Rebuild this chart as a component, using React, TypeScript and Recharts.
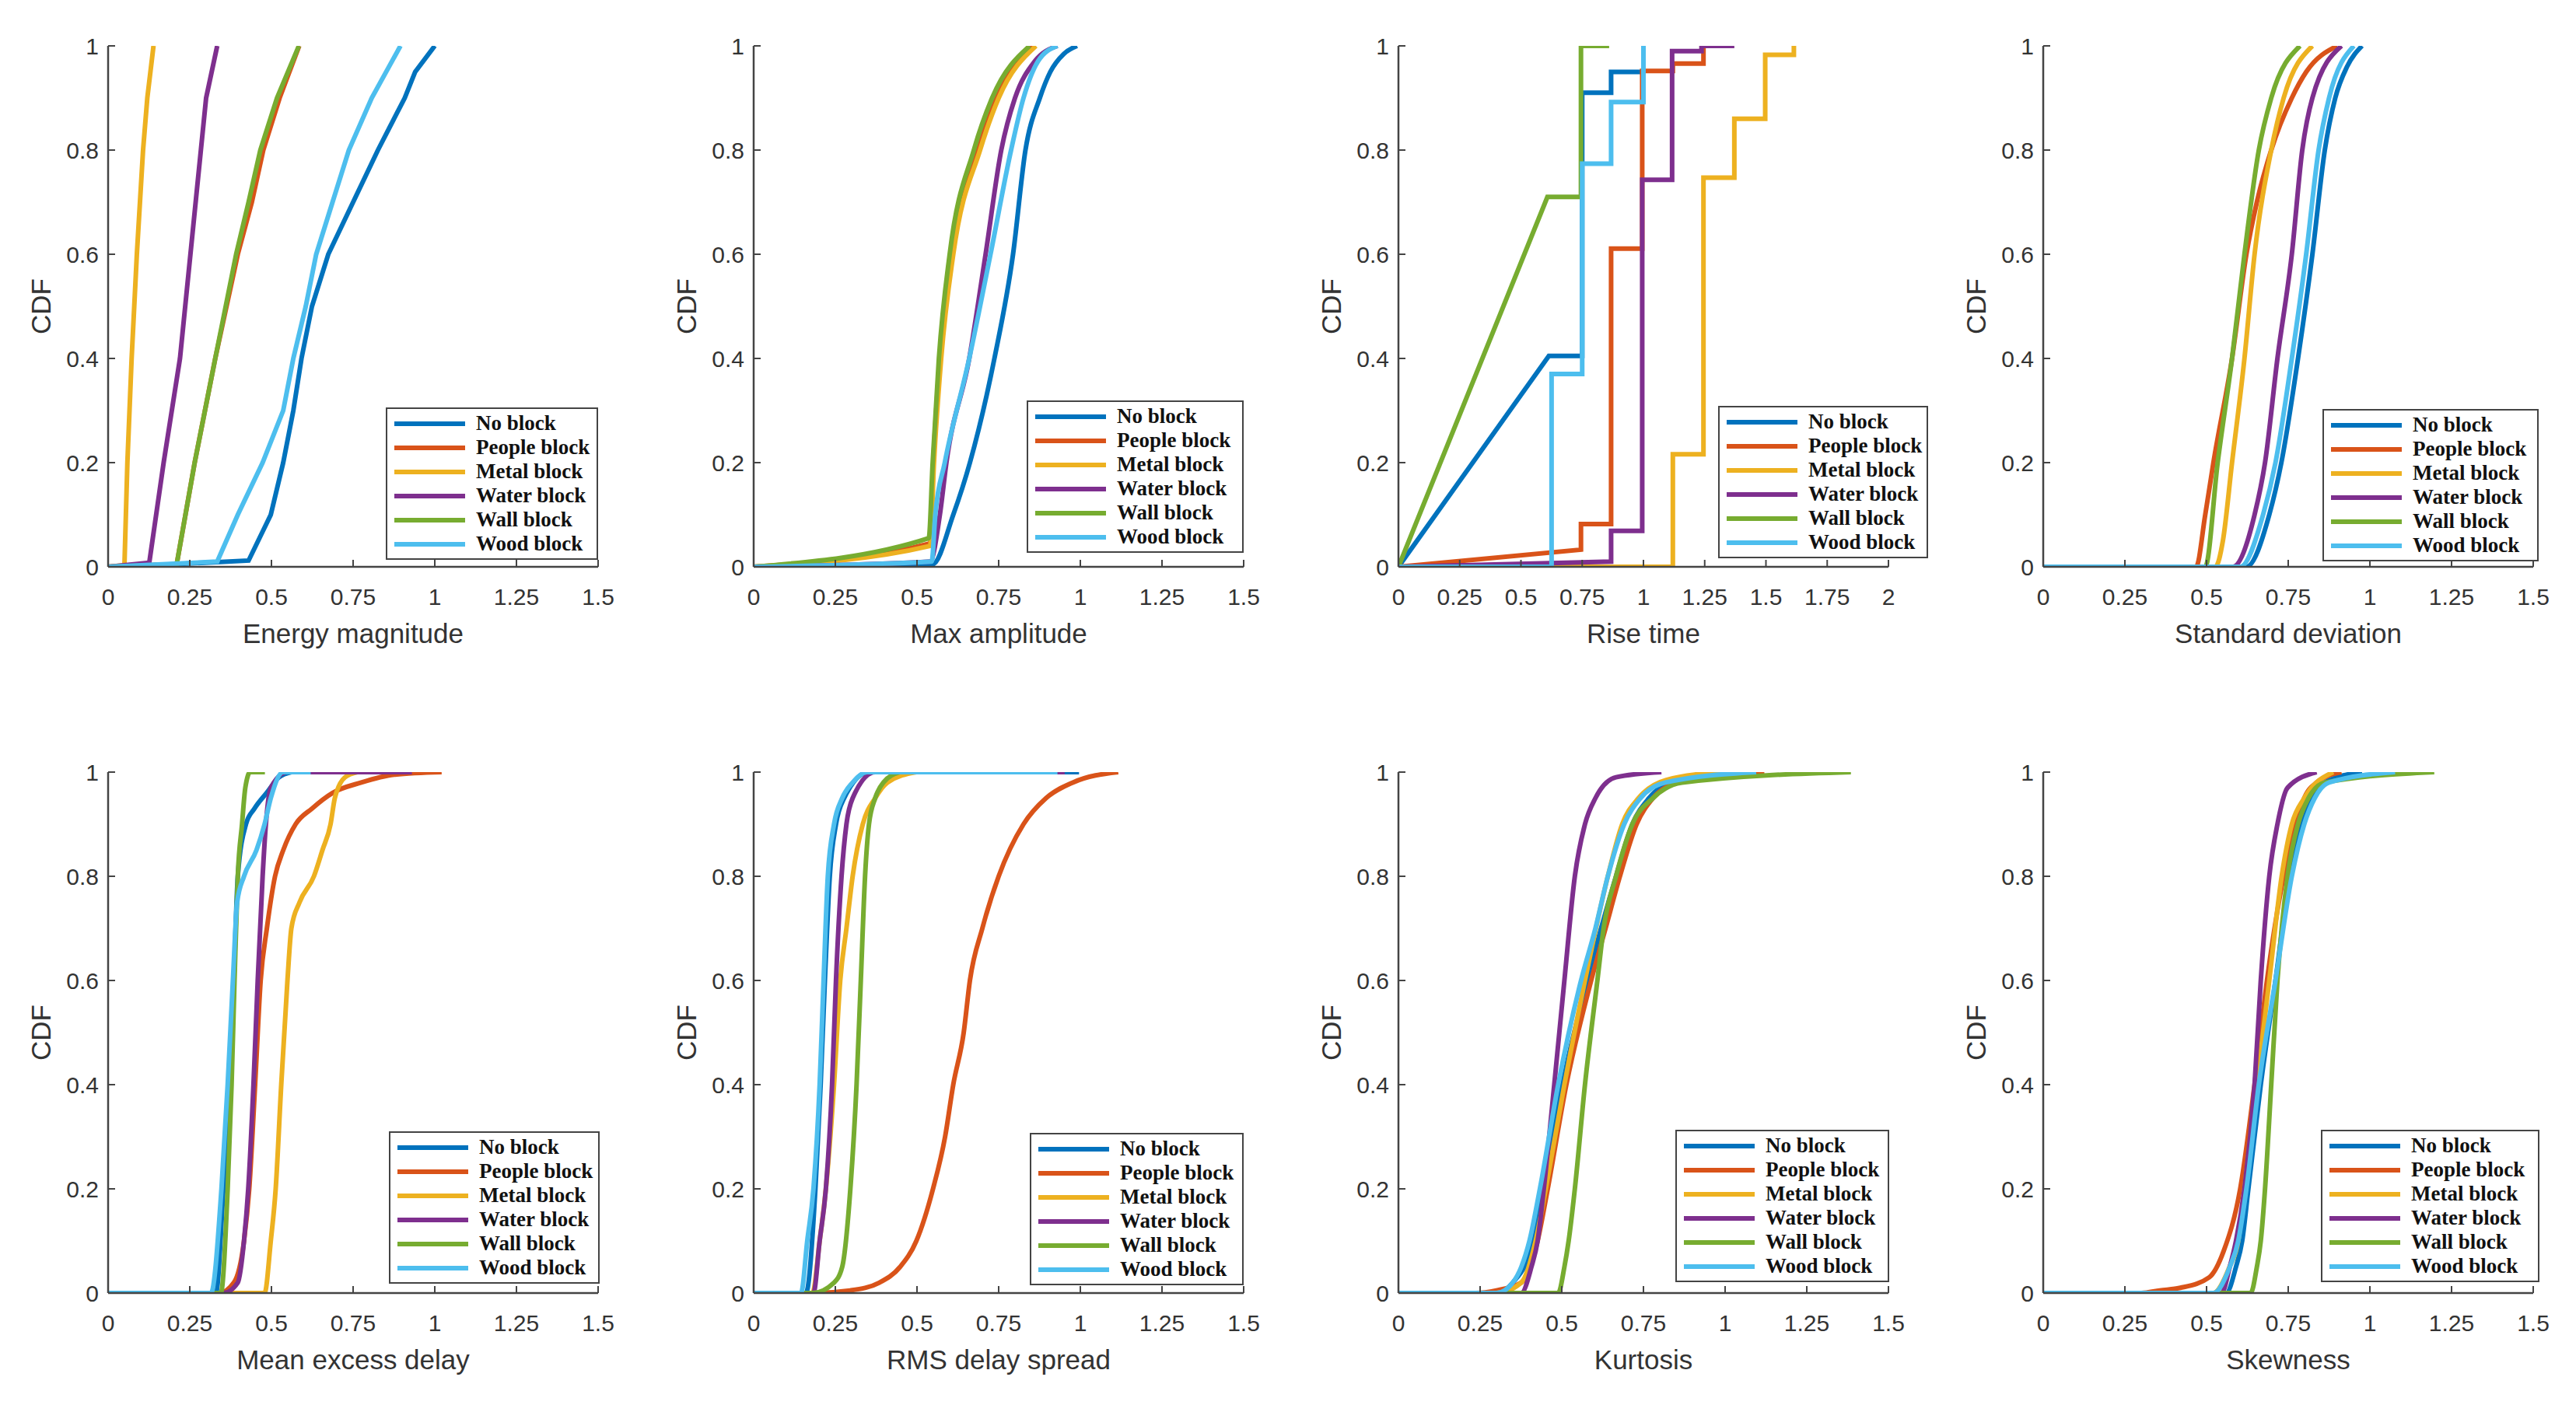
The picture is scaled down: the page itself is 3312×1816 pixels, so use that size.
import { LineChart, Line, XAxis, YAxis, Legend } from 'recharts'

// series names + MATLAB default colour order
const SERIES_NAMES = ['No block', 'People block', 'Metal block', 'Water block', 'Wall block', 'Wood block']
const SERIES_COLORS = ['#0072BD', '#D95319', '#EDB120', '#7E2F8E', '#77AC30', '#4DBEEE']

const X_TICKS = [0, 0.25, 0.5, 0.75, 1, 1.25, 1.5]
const X_TICKS_RISE = [0, 0.25, 0.5, 0.75, 1, 1.25, 1.5, 1.75, 2]
const Y_TICKS = [0, 0.2, 0.4, 0.6, 0.8, 1]

// [x, CDF] points
const energyNo = [[0, 0], [0.2, 0.005], [0.43, 0.012], [0.498, 0.1], [0.536, 0.2], [0.567, 0.3], [0.592, 0.4], [0.624, 0.5], [0.674, 0.6], [0.75, 0.7], [0.826, 0.8], [0.908, 0.9], [0.94, 0.95], [1.0, 1.0]]
const energyPeople = [[0, 0], [0.21, 0.005], [0.265, 0.2], [0.328, 0.4], [0.397, 0.6], [0.44, 0.7], [0.475, 0.8], [0.525, 0.9], [0.585, 1.0]]
const energyMetal = [[0, 0], [0.05, 0.003], [0.059, 0.2], [0.072, 0.4], [0.088, 0.6], [0.107, 0.8], [0.12, 0.9], [0.139, 1.0]]
const energyWater = [[0, 0], [0.126, 0.008], [0.17, 0.2], [0.22, 0.4], [0.252, 0.6], [0.284, 0.8], [0.3, 0.9], [0.334, 1.0]]
const energyWall = [[0, 0], [0.21, 0.005], [0.265, 0.2], [0.328, 0.4], [0.392, 0.6], [0.43, 0.7], [0.466, 0.8], [0.517, 0.9], [0.584, 1.0]]
const energyWood = [[0, 0], [0.334, 0.01], [0.397, 0.1], [0.473, 0.2], [0.536, 0.3], [0.567, 0.4], [0.605, 0.5], [0.637, 0.6], [0.687, 0.7], [0.737, 0.8], [0.807, 0.9], [0.895, 1.0]]

const ampNo = [[0, 0], [0.3, 0.003], [0.548, 0.005], [0.611, 0.1], [0.662, 0.2], [0.737, 0.4], [0.794, 0.6], [0.832, 0.8], [0.876, 0.9], [0.908, 0.95], [0.95, 0.985], [0.99, 1.0]]
const ampPeople = [[0, 0], [0.54, 0.045], [0.55, 0.2], [0.57, 0.4], [0.605, 0.6], [0.683, 0.8], [0.74, 0.9], [0.857, 1.0]]
const ampMetal = [[0, 0], [0.54, 0.04], [0.552, 0.2], [0.574, 0.4], [0.611, 0.6], [0.693, 0.8], [0.75, 0.9], [0.864, 1.0]]
const ampWater = [[0, 0], [0.54, 0.01], [0.57, 0.1], [0.59, 0.2], [0.66, 0.4], [0.71, 0.6], [0.758, 0.8], [0.8, 0.9], [0.86, 0.97], [0.93, 1.0]]
const ampWall = [[0, 0], [0.536, 0.055], [0.548, 0.2], [0.567, 0.4], [0.6, 0.6], [0.674, 0.8], [0.73, 0.9], [0.845, 1.0]]
const ampWood = [[0, 0], [0.545, 0.01], [0.556, 0.1], [0.585, 0.2], [0.66, 0.4], [0.725, 0.6], [0.788, 0.8], [0.826, 0.9], [0.87, 0.97], [0.93, 1.0]]

const riseNo = [[0, 0], [0.614, 0.405], [0.75, 0.405], [0.75, 0.91], [0.868, 0.91], [0.868, 0.95], [1.0, 0.95], [1.0, 1.0]]
const risePeople = [[0, 0], [0.745, 0.033], [0.745, 0.082], [0.868, 0.082], [0.868, 0.611], [0.995, 0.611], [0.995, 0.952], [1.12, 0.952], [1.12, 0.966], [1.245, 0.966], [1.245, 1.0], [1.3, 1.0]]
const riseMetal = [[0, 0], [1.12, 0], [1.12, 0.216], [1.245, 0.216], [1.245, 0.747], [1.371, 0.747], [1.371, 0.86], [1.497, 0.86], [1.497, 0.983], [1.614, 0.983], [1.614, 1.0]]
const riseWater = [[0, 0], [0.868, 0.01], [0.868, 0.069], [0.995, 0.069], [0.995, 0.743], [1.117, 0.743], [1.117, 0.99], [1.237, 0.99], [1.237, 1.0], [1.371, 1.0]]
const riseWall = [[0, 0], [0.608, 0.71], [0.745, 0.71], [0.745, 1.0], [0.86, 1.0]]
const riseWood = [[0, 0], [0.625, 0], [0.625, 0.37], [0.75, 0.37], [0.75, 0.774], [0.868, 0.774], [0.868, 0.892], [1.0, 0.892], [1.0, 1.0]]

const stdNo = [[0, 0], [0.622, 0], [0.692, 0.1], [0.729, 0.2], [0.78, 0.4], [0.824, 0.6], [0.862, 0.8], [0.894, 0.9], [0.93, 0.96], [0.976, 1.0]]
const stdPeople = [[0, 0], [0.468, 0], [0.496, 0.1], [0.521, 0.2], [0.578, 0.4], [0.622, 0.6], [0.654, 0.7], [0.698, 0.8], [0.761, 0.9], [0.805, 0.95], [0.9, 1.0]]
const stdMetal = [[0, 0], [0.527, 0], [0.55, 0.05], [0.578, 0.2], [0.616, 0.4], [0.647, 0.6], [0.698, 0.8], [0.736, 0.9], [0.824, 1.0]]
const stdWater = [[0, 0], [0.58, 0], [0.647, 0.1], [0.679, 0.2], [0.717, 0.4], [0.761, 0.6], [0.793, 0.8], [0.824, 0.9], [0.913, 1.0]]
const stdWall = [[0, 0], [0.496, 0], [0.534, 0.2], [0.578, 0.4], [0.616, 0.6], [0.66, 0.8], [0.698, 0.9], [0.786, 1.0]]
const stdWood = [[0, 0], [0.603, 0], [0.673, 0.1], [0.711, 0.2], [0.761, 0.4], [0.805, 0.6], [0.843, 0.8], [0.875, 0.9], [0.951, 1.0]]

const medNo = [[0, 0], [0.33, 0], [0.353, 0.2], [0.372, 0.4], [0.385, 0.6], [0.397, 0.8], [0.422, 0.9], [0.448, 0.93], [0.485, 0.96], [0.523, 0.99], [0.561, 1.0]]
const medPeople = [[0, 0], [0.34, 0], [0.385, 0.02], [0.416, 0.1], [0.432, 0.2], [0.45, 0.4], [0.467, 0.6], [0.486, 0.7], [0.511, 0.8], [0.536, 0.85], [0.574, 0.9], [0.624, 0.93], [0.687, 0.96], [0.775, 0.98], [0.876, 0.995], [1.021, 1.0]]
const medMetal = [[0, 0], [0.479, 0], [0.498, 0.1], [0.513, 0.2], [0.53, 0.4], [0.549, 0.6], [0.561, 0.7], [0.586, 0.75], [0.63, 0.8], [0.656, 0.85], [0.681, 0.9], [0.694, 0.95], [0.725, 0.99], [0.763, 1.0]]
const medWater = [[0, 0], [0.353, 0], [0.397, 0.02], [0.416, 0.1], [0.429, 0.2], [0.445, 0.4], [0.458, 0.6], [0.473, 0.8], [0.483, 0.9], [0.498, 0.97], [0.549, 1.0], [0.93, 1.0]]
const medWall = [[0, 0], [0.345, 0], [0.366, 0.2], [0.378, 0.4], [0.387, 0.6], [0.397, 0.8], [0.41, 0.9], [0.42, 0.97], [0.435, 1.0], [0.48, 1.0]]
const medWood = [[0, 0], [0.315, 0], [0.347, 0.2], [0.366, 0.4], [0.382, 0.6], [0.395, 0.75], [0.416, 0.8], [0.454, 0.85], [0.479, 0.9], [0.498, 0.95], [0.536, 1.0], [0.62, 1.0]]

const rmsNo = [[0, 0], [0.16, 0], [0.189, 0.2], [0.205, 0.4], [0.218, 0.6], [0.233, 0.8], [0.252, 0.9], [0.277, 0.95], [0.353, 1.0], [0.996, 1.0]]
const rmsPeople = [[0, 0], [0.18, 0], [0.296, 0.005], [0.385, 0.02], [0.448, 0.05], [0.498, 0.1], [0.549, 0.2], [0.586, 0.3], [0.611, 0.4], [0.643, 0.5], [0.662, 0.6], [0.7, 0.7], [0.75, 0.8], [0.826, 0.9], [0.895, 0.95], [0.977, 0.98], [1.116, 1.0]]
const rmsMetal = [[0, 0], [0.18, 0], [0.202, 0.1], [0.221, 0.2], [0.246, 0.4], [0.265, 0.6], [0.284, 0.7], [0.303, 0.8], [0.334, 0.9], [0.372, 0.95], [0.41, 0.98], [0.498, 1.0]]
const rmsWater = [[0, 0], [0.183, 0], [0.202, 0.1], [0.221, 0.2], [0.24, 0.4], [0.252, 0.6], [0.269, 0.8], [0.284, 0.9], [0.303, 0.95], [0.372, 1.0], [0.952, 1.0]]
const rmsWall = [[0, 0], [0.18, 0], [0.246, 0.02], [0.271, 0.05], [0.296, 0.2], [0.315, 0.4], [0.328, 0.6], [0.341, 0.8], [0.353, 0.9], [0.372, 0.95], [0.397, 0.98], [0.448, 1.0]]
const rmsWood = [[0, 0], [0.145, 0], [0.164, 0.1], [0.183, 0.2], [0.202, 0.4], [0.214, 0.6], [0.227, 0.8], [0.246, 0.9], [0.271, 0.95], [0.303, 0.98], [0.347, 1.0], [0.93, 1.0]]

const kurtNo = [[0, 0], [0.3, 0], [0.35, 0.02], [0.414, 0.1], [0.445, 0.2], [0.502, 0.4], [0.578, 0.6], [0.666, 0.8], [0.716, 0.9], [0.767, 0.95], [0.85, 0.985], [0.994, 1.0]]
const kurtPeople = [[0, 0], [0.237, 0], [0.3, 0.005], [0.376, 0.02], [0.426, 0.1], [0.457, 0.2], [0.514, 0.4], [0.59, 0.6], [0.634, 0.7], [0.678, 0.8], [0.729, 0.9], [0.779, 0.95], [0.855, 0.98], [1.12, 1.0]]
const kurtMetal = [[0, 0], [0.3, 0], [0.376, 0.02], [0.42, 0.1], [0.451, 0.2], [0.508, 0.4], [0.571, 0.6], [0.641, 0.8], [0.685, 0.9], [0.735, 0.95], [0.82, 0.985], [0.994, 1.0]]
const kurtWater = [[0, 0], [0.376, 0], [0.407, 0.05], [0.426, 0.1], [0.445, 0.2], [0.477, 0.4], [0.508, 0.6], [0.54, 0.8], [0.571, 0.9], [0.603, 0.95], [0.666, 0.99], [0.805, 1.0]]
const kurtWall = [[0, 0], [0.489, 0], [0.508, 0.05], [0.521, 0.1], [0.54, 0.2], [0.571, 0.4], [0.609, 0.6], [0.628, 0.7], [0.666, 0.8], [0.716, 0.9], [0.779, 0.95], [0.868, 0.98], [1.385, 1.0]]
const kurtWood = [[0, 0], [0.3, 0], [0.35, 0.02], [0.376, 0.05], [0.401, 0.1], [0.433, 0.2], [0.489, 0.4], [0.559, 0.6], [0.603, 0.7], [0.641, 0.8], [0.691, 0.9], [0.741, 0.95], [0.817, 0.98], [1.095, 1.0]]

const skewNo = [[0, 0], [0.56, 0], [0.59, 0.05], [0.609, 0.1], [0.628, 0.2], [0.666, 0.4], [0.711, 0.6], [0.755, 0.8], [0.793, 0.9], [0.824, 0.95], [0.862, 0.98], [0.976, 1.0]]
const skewPeople = [[0, 0], [0.3, 0], [0.357, 0.005], [0.42, 0.01], [0.508, 0.03], [0.552, 0.08], [0.603, 0.2], [0.647, 0.4], [0.685, 0.6], [0.736, 0.8], [0.774, 0.9], [0.799, 0.95], [0.837, 0.98], [0.913, 1.0]]
const skewMetal = [[0, 0], [0.52, 0], [0.57, 0.05], [0.597, 0.1], [0.616, 0.2], [0.654, 0.4], [0.692, 0.6], [0.73, 0.8], [0.761, 0.9], [0.799, 0.95], [0.888, 1.0]]
const skewWater = [[0, 0], [0.546, 0], [0.571, 0.05], [0.59, 0.1], [0.616, 0.2], [0.647, 0.4], [0.666, 0.6], [0.692, 0.8], [0.717, 0.9], [0.748, 0.97], [0.837, 1.0]]
const skewWall = [[0, 0], [0.635, 0], [0.654, 0.05], [0.666, 0.1], [0.679, 0.2], [0.698, 0.4], [0.717, 0.6], [0.748, 0.8], [0.78, 0.9], [0.812, 0.95], [0.862, 0.98], [1.197, 1.0]]
const skewWood = [[0, 0], [0.521, 0], [0.571, 0.05], [0.597, 0.1], [0.622, 0.2], [0.66, 0.4], [0.711, 0.6], [0.761, 0.8], [0.799, 0.9], [0.831, 0.95], [0.875, 0.98], [1.077, 1.0]]

// layout (px)
const PLOT_W = 630
const PLOT_H = 670
const AXIS_W = 130
const TOP_PAD = 20
const XAXIS_H = 110
const RIGHT_PAD = 80
const TICK_LEN = 9
const AXIS_COLOR = '#444'
const TEXT_COLOR = '#333'
const SANS = '"Liberation Sans", Arial, Helvetica, sans-serif'
const SERIF = '"Liberation Serif", "Times New Roman", serif'

const panels = [
  { label: 'Energy magnitude', series: [energyNo, energyPeople, energyMetal, energyWater, energyWall, energyWood], xMax: 1.5, ticks: X_TICKS, curve: 'linear', left: 139, top: 59, lgX: 357, lgY: 465, lgW: 273 },
  { label: 'Max amplitude', series: [ampNo, ampPeople, ampMetal, ampWater, ampWall, ampWood], xMax: 1.5, ticks: X_TICKS, curve: 'monotone', left: 969, top: 59, lgX: 351, lgY: 456, lgW: 279 },
  { label: 'Rise time', series: [riseNo, risePeople, riseMetal, riseWater, riseWall, riseWood], xMax: 2, ticks: X_TICKS_RISE, curve: 'linear', left: 1798, top: 59, lgX: 411, lgY: 463, lgW: 270 },
  { label: 'Standard deviation', series: [stdNo, stdPeople, stdMetal, stdWater, stdWall, stdWood], xMax: 1.5, ticks: X_TICKS, curve: 'monotone', left: 2627, top: 59, lgX: 359, lgY: 467, lgW: 278 },
  { label: 'Mean excess delay', series: [medNo, medPeople, medMetal, medWater, medWall, medWood], xMax: 1.5, ticks: X_TICKS, curve: 'monotone', left: 139, top: 993, lgX: 361, lgY: 462, lgW: 271 },
  { label: 'RMS delay spread', series: [rmsNo, rmsPeople, rmsMetal, rmsWater, rmsWall, rmsWood], xMax: 1.5, ticks: X_TICKS, curve: 'monotone', left: 969, top: 993, lgX: 355, lgY: 464, lgW: 275 },
  { label: 'Kurtosis', series: [kurtNo, kurtPeople, kurtMetal, kurtWater, kurtWall, kurtWood], xMax: 1.5, ticks: X_TICKS, curve: 'monotone', left: 1798, top: 993, lgX: 356, lgY: 460, lgW: 275 },
  { label: 'Skewness', series: [skewNo, skewPeople, skewMetal, skewWater, skewWall, skewWood], xMax: 1.5, ticks: X_TICKS, curve: 'monotone', left: 2627, top: 993, lgX: 357, lgY: 460, lgW: 281 },
]

// MATLAB style: ticks point inwards, on all four sides
const BottomTick = ({ x, y, payload }: any) => (
  <g>
    <line x1={x} y1={y} x2={x} y2={y - TICK_LEN} stroke={AXIS_COLOR} strokeWidth={2} />
    <text x={x} y={y + 38} dy="0.35em" textAnchor="middle" fontSize={30} fontFamily={SANS} fill={TEXT_COLOR}>
      {payload.value}
    </text>
  </g>
)
const TopTick = ({ x, y }: any) => (
  <line x1={x} y1={y} x2={x} y2={y + TICK_LEN} stroke={AXIS_COLOR} strokeWidth={2} />
)
const LeftTick = ({ x, y, payload }: any) => (
  <g>
    <line x1={x} y1={y} x2={x + TICK_LEN} y2={y} stroke={AXIS_COLOR} strokeWidth={2} />
    <text x={x - 12} y={y} dy="0.35em" textAnchor="end" fontSize={30} fontFamily={SANS} fill={TEXT_COLOR}>
      {payload.value}
    </text>
  </g>
)
const RightTick = ({ x, y }: any) => (
  <line x1={x} y1={y} x2={x - TICK_LEN} y2={y} stroke={AXIS_COLOR} strokeWidth={2} />
)

// keep the plotting order in the legend (recharts sorts by name otherwise)
const LegendBox = ({ payload }: any) => {
  const items = [...(payload || [])].sort(
    (a: any, b: any) => SERIES_NAMES.indexOf(a.value) - SERIES_NAMES.indexOf(b.value))
  return (
    <div style={{
      width: '100%', height: '100%', boxSizing: 'border-box', background: '#fff',
      border: `2px solid ${AXIS_COLOR}`, paddingTop: 3,
    }}>
      {items.map((e: any) => (
        <div key={e.value} style={{ height: 31, display: 'flex', alignItems: 'center' }}>
          <div style={{ marginLeft: 9, width: 91, height: 6, background: e.color }} />
          <span style={{
            marginLeft: 14, fontFamily: SERIF, fontWeight: 'bold', fontSize: 27,
            color: '#111', whiteSpace: 'nowrap', lineHeight: '31px',
          }}>{e.value}</span>
        </div>
      ))}
    </div>
  )
}

function Panel({ p }: { p: typeof panels[number] }) {
  return (
    <div style={{ position: 'absolute', left: p.left - AXIS_W, top: p.top - TOP_PAD }}>
      <LineChart
        width={AXIS_W + PLOT_W + RIGHT_PAD}
        height={TOP_PAD + PLOT_H + XAXIS_H}
        margin={{ top: TOP_PAD, right: RIGHT_PAD, left: 0, bottom: 0 }}
      >
        <XAxis
          type="number" dataKey="x" domain={[0, p.xMax]} ticks={p.ticks} interval={0}
          allowDataOverflow height={XAXIS_H} tickSize={0} tickMargin={0} tickLine={false}
          axisLine={{ stroke: AXIS_COLOR, strokeWidth: 2.5 }} tick={<BottomTick />}
          label={{ value: p.label, position: 'insideBottom', offset: 12, fontSize: 35, fill: TEXT_COLOR, fontFamily: SANS }}
        />
        <XAxis
          xAxisId="top" orientation="top" type="number" domain={[0, p.xMax]} ticks={p.ticks} interval={0}
          allowDataOverflow height={0} tickSize={0} tickMargin={0} tickLine={false}
          axisLine={{ stroke: AXIS_COLOR, strokeWidth: 2.5 }} tick={<TopTick />}
        />
        <YAxis
          type="number" domain={[0, 1]} ticks={Y_TICKS} interval={0} allowDataOverflow
          width={AXIS_W} tickSize={0} tickMargin={0} tickLine={false}
          axisLine={{ stroke: AXIS_COLOR, strokeWidth: 2.5 }} tick={<LeftTick />}
          label={{ value: 'CDF', angle: -90, position: 'insideLeft', offset: 44, fontSize: 35, fill: TEXT_COLOR, fontFamily: SANS, style: { textAnchor: 'middle' } }}
        />
        <YAxis
          yAxisId="right" orientation="right" type="number" domain={[0, 1]} ticks={Y_TICKS} interval={0}
          allowDataOverflow width={0} tickSize={0} tickMargin={0} tickLine={false}
          axisLine={{ stroke: AXIS_COLOR, strokeWidth: 2.5 }} tick={<RightTick />}
        />
        {p.series.map((pts, i) => (
          <Line
            key={SERIES_NAMES[i]}
            name={SERIES_NAMES[i]}
            data={pts.map(([x, y]) => ({ x, y }))}
            dataKey="y"
            type={p.curve as any}
            stroke={SERIES_COLORS[i]}
            strokeWidth={6}
            dot={false}
            activeDot={false}
            isAnimationActive={false}
          />
        ))}
        <Legend
          layout="horizontal" verticalAlign="middle" align="center"
          content={<LegendBox />}
          wrapperStyle={{
            left: AXIS_W + p.lgX, top: TOP_PAD + p.lgY, right: 'auto', bottom: 'auto',
            width: p.lgW, height: 196, margin: 0,
          }}
        />
      </LineChart>
    </div>
  )
}

export default function App() {
  return (
    <div style={{ position: 'absolute', left: 0, top: 0, width: 3312, height: 1816, background: '#fff', overflow: 'hidden' }}>
      {panels.map(p => <Panel key={p.label} p={p} />)}
    </div>
  )
}
